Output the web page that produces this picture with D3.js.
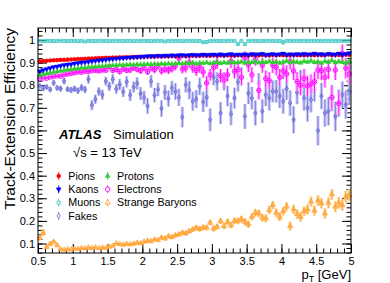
<!DOCTYPE html>
<html>
<head>
<meta charset="utf-8">
<script src="https://cdn.jsdelivr.net/npm/d3@7"></script>
<style>
  body { margin: 0; background: #fff; }
  text { font-family: "Liberation Sans", Arial, sans-serif; }
</style>
</head>
<body>
<svg id="chart" width="390" height="283"></svg>
<script>
// pT bins: 0.5 - 5 GeV in 0.05 steps (bin centres)
const ptBins = d3.range(90).map(i => 0.525 + 0.05 * i);

const pions = [
  0.906, 0.907, 0.908, 0.909, 0.910, 0.911, 0.912, 0.912, 0.913, 0.914,
  0.915, 0.916, 0.916, 0.917, 0.918, 0.918, 0.919, 0.920, 0.920, 0.921,
  0.921, 0.922, 0.922, 0.923, 0.923, 0.924, 0.924, 0.925, 0.925, 0.926,
  0.926, 0.927, 0.926, 0.927, 0.928, 0.927, 0.928, 0.928, 0.929, 0.928,
  0.929, 0.930, 0.929, 0.930, 0.930, 0.931, 0.930, 0.931, 0.931, 0.930,
  0.932, 0.931, 0.932, 0.931, 0.933, 0.932, 0.931, 0.933, 0.932, 0.933,
  0.932, 0.934, 0.933, 0.932, 0.934, 0.933, 0.932, 0.934, 0.933, 0.935,
  0.933, 0.932, 0.934, 0.935, 0.933, 0.934, 0.932, 0.935, 0.934, 0.933,
  0.935, 0.933, 0.934, 0.936, 0.933, 0.935, 0.934, 0.933, 0.936, 0.934
];
const kaons = [
  0.862, 0.867, 0.872, 0.876, 0.880, 0.883, 0.886, 0.889, 0.891, 0.893,
  0.896, 0.898, 0.900, 0.902, 0.904, 0.906, 0.908, 0.910, 0.911, 0.913,
  0.915, 0.916, 0.918, 0.919, 0.920, 0.922, 0.923, 0.924, 0.925, 0.926,
  0.927, 0.928, 0.929, 0.928, 0.930, 0.929, 0.931, 0.930, 0.932, 0.931,
  0.932, 0.934, 0.931, 0.933, 0.935, 0.932, 0.934, 0.936, 0.933, 0.935,
  0.936, 0.934, 0.937, 0.933, 0.936, 0.938, 0.934, 0.936, 0.935, 0.937,
  0.934, 0.938, 0.935, 0.937, 0.939, 0.934, 0.936, 0.938, 0.935, 0.937,
  0.940, 0.935, 0.937, 0.934, 0.938, 0.936, 0.939, 0.935, 0.937, 0.940,
  0.936, 0.938, 0.934, 0.939, 0.937, 0.935, 0.940, 0.936, 0.938, 0.942
];
const protons = [
  0.845, 0.848, 0.852, 0.855, 0.858, 0.861, 0.863, 0.866, 0.868, 0.870,
  0.872, 0.874, 0.876, 0.877, 0.879, 0.880, 0.882, 0.883, 0.884, 0.885,
  0.886, 0.887, 0.888, 0.889, 0.889, 0.890, 0.891, 0.890, 0.892, 0.891,
  0.892, 0.893, 0.892, 0.894, 0.893, 0.895, 0.894, 0.896, 0.894, 0.895,
  0.897, 0.895, 0.898, 0.896, 0.899, 0.895, 0.898, 0.897, 0.900, 0.896,
  0.899, 0.902, 0.897, 0.900, 0.898, 0.903, 0.899, 0.901, 0.904, 0.898,
  0.902, 0.900, 0.905, 0.899, 0.903, 0.901, 0.906, 0.900, 0.904, 0.898,
  0.903, 0.907, 0.900, 0.905, 0.902, 0.899, 0.906, 0.903, 0.908, 0.901,
  0.904, 0.898, 0.906, 0.902, 0.909, 0.900, 0.905, 0.903, 0.897, 0.906
];
const muons = [
  0.996, 0.995, 0.996, 0.996, 0.995, 0.996, 0.997, 0.996, 0.995, 0.996,
  0.996, 0.995, 0.996, 0.993, 0.996, 0.996, 0.995, 0.996, 0.996, 0.996,
  0.995, 0.996, 0.996, 0.996, 0.995, 0.996, 0.996, 0.995, 0.996, 0.996,
  0.996, 0.996, 0.995, 0.996, 0.996, 0.996, 0.993, 0.996, 0.996, 0.996,
  0.996, 0.995, 0.996, 0.996, 0.996, 0.995, 0.996, 0.990, 0.991, 0.996,
  0.996, 0.996, 0.995, 0.996, 0.996, 0.996, 0.996, 0.982, 0.996, 0.982,
  0.996, 0.996, 0.996, 0.995, 0.996, 0.996, 0.996, 0.996, 0.995, 0.996,
  0.990, 0.996, 0.996, 0.996, 0.996, 0.996, 0.996, 0.996, 0.996, 0.996,
  0.996, 0.996, 0.996, 0.996, 0.996, 0.996, 0.996, 0.996, 0.996, 0.996
];
const electrons = [
  0.829, 0.832, 0.831, 0.836, 0.838, 0.841, 0.840, 0.846, 0.849, 0.852,
  0.855, 0.858, 0.857, 0.862, 0.860, 0.864, 0.866, 0.863, 0.867, 0.866,
  0.882, 0.865, 0.869, 0.860, 0.872, 0.866, 0.867, 0.877, 0.870, 0.864,
  0.877, 0.860, 0.877, 0.869, 0.885, 0.864, 0.871, 0.867, 0.874, 0.885,
  0.919, 0.872, 0.877, 0.900, 0.877, 0.865, 0.879, 0.858, 0.810, 0.846,
  0.879, 0.898, 0.842, 0.824, 0.846, 0.906, 0.861, 0.869, 0.835, 0.920,
  0.890, 0.846, 0.916, 0.777, 0.888, 0.829, 0.820, 0.888, 0.879, 0.835,
  0.863, 0.850, 0.904, 0.863, 0.816, 0.800, 0.830, 0.797, 0.805, 0.816,
  0.867, 0.864, 0.835, 0.870, 0.746, 0.867, 0.720, 0.940, 0.875, 0.850
];
const fakes = [
  0.797, 0.786, 0.792, 0.781, 0.810, 0.788, 0.785, 0.818, 0.782, 0.779,
  0.784, 0.776, 0.789, 0.781, 0.826, 0.712, 0.738, 0.772, 0.758, 0.818,
  0.795, 0.826, 0.784, 0.803, 0.771, 0.815, 0.756, 0.792, 0.808, 0.763,
  0.745, 0.708, 0.817, 0.756, 0.781, 0.697, 0.768, 0.741, 0.788, 0.772,
  0.746, 0.659, 0.802, 0.778, 0.729, 0.739, 0.795, 0.726, 0.746, 0.647,
  0.835, 0.817, 0.677, 0.817, 0.752, 0.673, 0.743, 0.814, 0.839, 0.662,
  0.765, 0.743, 0.677, 0.808, 0.685, 0.758, 0.743, 0.773, 0.773, 0.752,
  0.729, 0.785, 0.721, 0.647, 0.768, 0.817, 0.743, 0.699, 0.736, 0.780,
  0.599, 0.752, 0.677, 0.685, 0.743, 0.662, 0.721, 0.758, 0.714, 0.772
];
const strangeBaryons = [
  0.125, 0.148, 0.085, 0.098, 0.108, 0.092, 0.075, 0.072, 0.075, 0.073,
  0.078, 0.076, 0.080, 0.078, 0.082, 0.080, 0.083, 0.079, 0.082, 0.080,
  0.086, 0.090, 0.100, 0.097, 0.095, 0.098, 0.096, 0.099, 0.103, 0.101,
  0.108, 0.112, 0.110, 0.118, 0.115, 0.126, 0.122, 0.132, 0.128, 0.136,
  0.140, 0.148, 0.145, 0.155, 0.162, 0.170, 0.164, 0.171, 0.170, 0.192,
  0.166, 0.174, 0.199, 0.177, 0.196, 0.181, 0.200, 0.200, 0.208, 0.196,
  0.185, 0.218, 0.236, 0.233, 0.214, 0.211, 0.248, 0.270, 0.236, 0.218,
  0.243, 0.263, 0.177, 0.251, 0.230, 0.218, 0.243, 0.251, 0.285, 0.245,
  0.290, 0.278, 0.233, 0.280, 0.317, 0.263, 0.280, 0.270, 0.307, 0.314
];

// uncertainties
const pionErr = 0.002;
const muonErr = [
  0.002, 0.002, 0.002, 0.002, 0.002, 0.002, 0.002, 0.002, 0.002, 0.002,
  0.002, 0.002, 0.002, 0.003, 0.002, 0.002, 0.002, 0.002, 0.002, 0.002,
  0.002, 0.002, 0.002, 0.002, 0.002, 0.002, 0.002, 0.002, 0.002, 0.002,
  0.002, 0.002, 0.002, 0.002, 0.002, 0.002, 0.003, 0.002, 0.002, 0.002,
  0.002, 0.002, 0.002, 0.002, 0.002, 0.002, 0.002, 0.004, 0.004, 0.002,
  0.002, 0.002, 0.002, 0.002, 0.002, 0.002, 0.002, 0.008, 0.002, 0.008,
  0.002, 0.002, 0.002, 0.002, 0.002, 0.002, 0.002, 0.002, 0.002, 0.002,
  0.012, 0.002, 0.002, 0.002, 0.002, 0.002, 0.002, 0.002, 0.002, 0.002,
  0.002, 0.002, 0.002, 0.002, 0.002, 0.002, 0.002, 0.002, 0.002, 0.002
];
const kaonErr = [
  0.002, 0.002, 0.002, 0.002, 0.002, 0.002, 0.002, 0.002, 0.002, 0.002,
  0.002, 0.002, 0.002, 0.002, 0.002, 0.002, 0.002, 0.002, 0.002, 0.002,
  0.002, 0.002, 0.002, 0.002, 0.002, 0.002, 0.003, 0.003, 0.003, 0.003,
  0.003, 0.003, 0.003, 0.003, 0.003, 0.003, 0.003, 0.003, 0.003, 0.003,
  0.003, 0.003, 0.003, 0.003, 0.003, 0.004, 0.004, 0.004, 0.004, 0.004,
  0.004, 0.004, 0.004, 0.004, 0.004, 0.004, 0.004, 0.004, 0.004, 0.004,
  0.004, 0.005, 0.005, 0.005, 0.005, 0.005, 0.005, 0.005, 0.005, 0.005,
  0.005, 0.005, 0.005, 0.005, 0.005, 0.005, 0.005, 0.006, 0.006, 0.006,
  0.006, 0.006, 0.006, 0.006, 0.006, 0.006, 0.006, 0.006, 0.006, 0.006
];
const protonErr = [
  0.002, 0.002, 0.002, 0.002, 0.002, 0.002, 0.002, 0.002, 0.002, 0.002,
  0.002, 0.002, 0.002, 0.002, 0.002, 0.002, 0.002, 0.002, 0.002, 0.002,
  0.003, 0.003, 0.003, 0.003, 0.003, 0.003, 0.003, 0.003, 0.003, 0.003,
  0.003, 0.003, 0.003, 0.003, 0.003, 0.004, 0.004, 0.004, 0.004, 0.004,
  0.004, 0.004, 0.004, 0.004, 0.004, 0.005, 0.005, 0.005, 0.005, 0.005,
  0.005, 0.005, 0.005, 0.005, 0.005, 0.006, 0.006, 0.006, 0.006, 0.006,
  0.006, 0.006, 0.006, 0.006, 0.006, 0.007, 0.007, 0.007, 0.007, 0.007,
  0.007, 0.007, 0.007, 0.007, 0.007, 0.008, 0.008, 0.008, 0.008, 0.008,
  0.008, 0.008, 0.008, 0.008, 0.008, 0.009, 0.009, 0.009, 0.009, 0.009
];
const electronErr = [
  0.004, 0.004, 0.005, 0.005, 0.005, 0.005, 0.006, 0.006, 0.006, 0.006,
  0.007, 0.007, 0.007, 0.008, 0.008, 0.008, 0.009, 0.009, 0.010, 0.010,
  0.012, 0.010, 0.011, 0.012, 0.011, 0.012, 0.012, 0.013, 0.013, 0.014,
  0.014, 0.015, 0.015, 0.016, 0.016, 0.017, 0.017, 0.018, 0.018, 0.019,
  0.022, 0.020, 0.021, 0.022, 0.022, 0.023, 0.024, 0.025, 0.030, 0.026,
  0.027, 0.026, 0.030, 0.032, 0.029, 0.030, 0.031, 0.030, 0.033, 0.030,
  0.032, 0.034, 0.030, 0.040, 0.033, 0.036, 0.038, 0.034, 0.035, 0.037,
  0.036, 0.038, 0.035, 0.040, 0.042, 0.044, 0.042, 0.045, 0.043, 0.044,
  0.040, 0.042, 0.045, 0.043, 0.050, 0.044, 0.052, 0.040, 0.045, 0.046
];
const fakeErr = [
  0.008, 0.010, 0.009, 0.011, 0.012, 0.011, 0.012, 0.014, 0.012, 0.013,
  0.014, 0.013, 0.015, 0.016, 0.018, 0.022, 0.020, 0.018, 0.022, 0.019,
  0.020, 0.022, 0.021, 0.024, 0.023, 0.025, 0.026, 0.024, 0.027, 0.028,
  0.030, 0.034, 0.028, 0.032, 0.030, 0.036, 0.033, 0.035, 0.031, 0.036,
  0.038, 0.045, 0.034, 0.040, 0.042, 0.040, 0.038, 0.045, 0.042, 0.050,
  0.035, 0.040, 0.048, 0.040, 0.045, 0.050, 0.046, 0.042, 0.040, 0.055,
  0.048, 0.050, 0.055, 0.045, 0.052, 0.050, 0.055, 0.048, 0.050, 0.052,
  0.055, 0.050, 0.056, 0.060, 0.052, 0.050, 0.055, 0.060, 0.056, 0.052,
  0.065, 0.058, 0.060, 0.062, 0.058, 0.065, 0.060, 0.058, 0.062, 0.060
];
const strangeErr = [
  0.012, 0.015, 0.008, 0.008, 0.007, 0.006, 0.005, 0.005, 0.004, 0.004,
  0.004, 0.004, 0.004, 0.004, 0.004, 0.004, 0.004, 0.004, 0.005, 0.005,
  0.005, 0.005, 0.005, 0.005, 0.005, 0.005, 0.006, 0.006, 0.006, 0.006,
  0.006, 0.007, 0.007, 0.007, 0.007, 0.008, 0.008, 0.008, 0.009, 0.009,
  0.009, 0.010, 0.010, 0.010, 0.011, 0.011, 0.011, 0.012, 0.012, 0.012,
  0.013, 0.013, 0.013, 0.014, 0.014, 0.014, 0.015, 0.015, 0.015, 0.016,
  0.016, 0.016, 0.017, 0.017, 0.017, 0.018, 0.018, 0.018, 0.019, 0.019,
  0.019, 0.020, 0.020, 0.020, 0.021, 0.021, 0.021, 0.022, 0.022, 0.022,
  0.023, 0.023, 0.023, 0.024, 0.024, 0.024, 0.025, 0.025, 0.025, 0.026
];

const xTicks = [0.5, 1, 1.5, 2, 2.5, 3, 3.5, 4, 4.5, 5];
const yTicks = [0.1, 0.2, 0.3, 0.4, 0.5, 0.6, 0.7, 0.8, 0.9, 1];

const svg = d3.select("#chart");
const margin = {top: 28, right: 39, bottom: 30, left: 38};
const W = 390, H = 283;

const x = d3.scaleLinear().domain([0.5, 5]).range([margin.left, W - margin.right]);
const y = d3.scaleLinear().domain([0.058, 1.053]).range([H - margin.bottom, margin.top]);

const xMinor = d3.range(0.5, 5.001, 0.1);
const yMinor = d3.range(0.06, 1.051, 0.02);

// ticks pointing inward on all four sides
const g = svg.append("g");

g.append("g").attr("transform", `translate(0,${y.range()[0]})`)
  .call(d3.axisBottom(x).tickValues(xMinor).tickSize(-4.5).tickFormat(""));
g.append("g").attr("transform", `translate(0,${y.range()[0]})`)
  .call(d3.axisBottom(x).tickValues(xTicks).tickSize(-9).tickPadding(4).tickFormat(d3.format("")));
g.append("g").attr("transform", `translate(0,${y.range()[1]})`)
  .call(d3.axisTop(x).tickValues(xMinor).tickSize(-4.5).tickFormat(""));
g.append("g").attr("transform", `translate(0,${y.range()[1]})`)
  .call(d3.axisTop(x).tickValues(xTicks).tickSize(-9).tickFormat(""));

g.append("g").attr("transform", `translate(${x.range()[0]},0)`)
  .call(d3.axisLeft(y).tickValues(yMinor).tickSize(-4.5).tickFormat(""));
g.append("g").attr("transform", `translate(${x.range()[0]},0)`)
  .call(d3.axisLeft(y).tickValues(yTicks).tickSize(-9).tickPadding(3).tickFormat(d3.format("")));
g.append("g").attr("transform", `translate(${x.range()[1]},0)`)
  .call(d3.axisRight(y).tickValues(yMinor).tickSize(-4.5).tickFormat(""));
g.append("g").attr("transform", `translate(${x.range()[1]},0)`)
  .call(d3.axisRight(y).tickValues(yTicks).tickSize(-9).tickFormat(""));

g.selectAll(".domain").remove();
g.selectAll(".tick line").attr("stroke", "#000").attr("stroke-width", 1);
g.selectAll(".tick text").attr("font-size", 11).attr("fill", "#000")
  .attr("font-family", "'Liberation Sans', Arial, sans-serif");

// data series
const plot = svg.append("g");

function drawSeries(vals, errs, opt) {
  const s = plot.append("g");
  const err = i => Array.isArray(errs) ? errs[i] : errs;
  const pts = vals.map((v, i) => ({pt: ptBins[i], v: v, e: err(i)}));
  if (opt.band) {
    s.selectAll("rect").data(pts).join("rect")
      .attr("x", d => x(d.pt) - 1.6)
      .attr("width", 3.2)
      .attr("y", d => y(d.v + d.e))
      .attr("height", d => y(d.v - d.e) - y(d.v + d.e))
      .attr("fill", opt.band);
  }
  s.selectAll("line.ey").data(pts).join("line").attr("class", "ey")
    .attr("x1", d => x(d.pt)).attr("x2", d => x(d.pt))
    .attr("y1", d => y(d.v + d.e)).attr("y2", d => y(d.v - d.e))
    .attr("stroke", opt.color).attr("stroke-width", 0.9);
  s.selectAll("line.ex").data(pts).join("line").attr("class", "ex")
    .attr("x1", d => x(d.pt - 0.025)).attr("x2", d => x(d.pt + 0.025))
    .attr("y1", d => y(d.v)).attr("y2", d => y(d.v))
    .attr("stroke", opt.color).attr("stroke-width", 0.9);
  s.selectAll("path").data(pts).join("path")
    .attr("transform", d => `translate(${x(d.pt)},${y(d.v)})` + (opt.rot ? " rotate(180)" : ""))
    .attr("d", d3.symbol().type(opt.shape).size(opt.size))
    .attr("fill", opt.open ? "none" : opt.color)
    .attr("stroke", opt.color)
    .attr("stroke-width", opt.open ? 0.9 : 0.3);
}

const styles = {
  pions:   {color: "#ff0000", shape: d3.symbolCircle,   size: 13, open: false},
  kaons:   {color: "#0000ff", shape: d3.symbolTriangle, size: 12, open: false, rot: true},
  muons:   {color: "#40c8c8", shape: d3.symbolSquare,   size: 9,  open: true},
  fakes:   {color: "#7474dc", shape: d3.symbolDiamond,  size: 9,  open: true, band: "#cacaf2"},
  protons: {color: "#33cc33", shape: d3.symbolTriangle, size: 12, open: false},
  electrons: {color: "#ff00ff", shape: d3.symbolCircle, size: 16, open: true, band: "#ffbcff"},
  strange: {color: "#ffa030", shape: d3.symbolTriangle, size: 11, open: true, band: "#ffdca8"}
};

drawSeries(fakes, fakeErr, styles.fakes);
drawSeries(strangeBaryons, strangeErr, styles.strange);
drawSeries(electrons, electronErr, styles.electrons);
drawSeries(protons, protonErr, styles.protons);
drawSeries(pions, pionErr, styles.pions);
drawSeries(kaons, kaonErr, styles.kaons);
drawSeries(muons, muonErr, styles.muons);

// frame
svg.append("rect")
  .attr("x", x.range()[0]).attr("y", y.range()[1])
  .attr("width", x.range()[1] - x.range()[0])
  .attr("height", y.range()[0] - y.range()[1])
  .attr("fill", "none").attr("stroke", "#000").attr("stroke-width", 1);

// axis titles
svg.append("text")
  .attr("transform", `translate(14.5,${y.range()[1]}) rotate(-90)`)
  .attr("text-anchor", "end")
  .attr("font-size", 15.5)
  .text("Track-Extension Efficiency");

const xt = svg.append("text")
  .attr("x", x.range()[1]).attr("y", 278.5)
  .attr("text-anchor", "end")
  .attr("font-size", 13);
xt.append("tspan").text("p");
xt.append("tspan").attr("font-size", 9).attr("dy", 3).text("T");
xt.append("tspan").attr("dy", -3).text(" [GeV]");

// ATLAS label
const lab = svg.append("text").attr("x", 59).attr("y", 139).attr("font-size", 13);
lab.append("tspan").attr("font-weight", "bold").attr("font-style", "italic").text("ATLAS");
svg.append("text").attr("x", 113).attr("y", 139).attr("font-size", 13).text("Simulation");
svg.append("text").attr("x", 73).attr("y", 156.5).attr("font-size", 13).text("\u221As = 13 TeV");

// legend
const legendItems = [
  {label: "Pions", st: styles.pions, col: 0, row: 0},
  {label: "Kaons", st: styles.kaons, col: 0, row: 1},
  {label: "Muons", st: styles.muons, col: 0, row: 2},
  {label: "Fakes", st: styles.fakes, col: 0, row: 3},
  {label: "Protons", st: styles.protons, col: 1, row: 0},
  {label: "Electrons", st: styles.electrons, col: 1, row: 1},
  {label: "Strange Baryons", st: styles.strange, col: 1, row: 2}
];
const leg = svg.append("g");
const li = leg.selectAll("g").data(legendItems).join("g")
  .attr("transform", d => `translate(${d.col ? 107.7 : 58.7},${176 + d.row * 13.3})`);
li.append("line").attr("x1", 0).attr("x2", 0).attr("y1", -4).attr("y2", 4)
  .attr("stroke", d => d.st.color).attr("stroke-width", 0.9);
li.append("path")
  .attr("transform", d => d.st.rot ? "rotate(180)" : null)
  .attr("d", d => d3.symbol().type(d.st.shape).size(d.st.size)())
  .attr("fill", d => d.st.open ? "#fff" : d.st.color)
  .attr("stroke", d => d.st.color)
  .attr("stroke-width", d => d.st.open ? 0.9 : 0.3);
li.append("text").attr("x", d => d.col ? 9.3 : 9.6).attr("y", 3.8)
  .attr("font-size", 10.7).text(d => d.label);
</script>
</body>
</html>
